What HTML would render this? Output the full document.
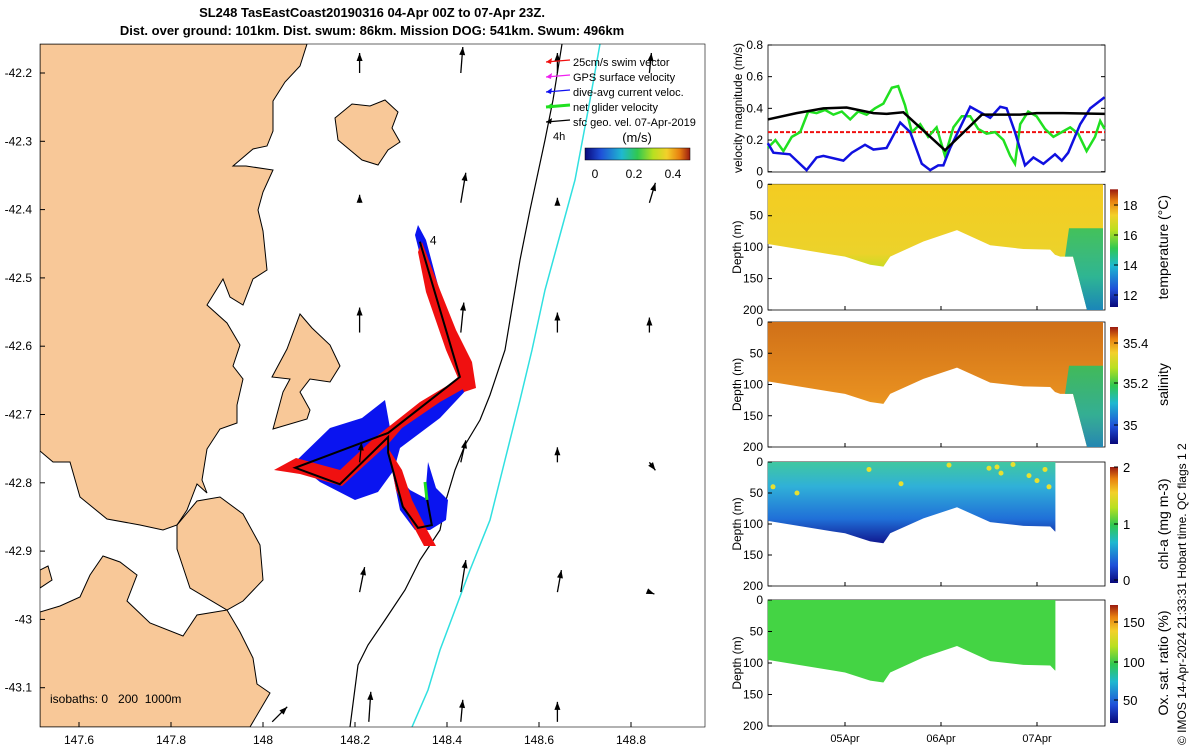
<!DOCTYPE html>
<html><head><meta charset="utf-8"><style>
body{margin:0;background:#fff;}
svg{display:block;font-family:"Liberation Sans","DejaVu Sans",sans-serif;}
</style></head><body>
<svg id="s" width="1200" height="750" viewBox="0 0 1200 750" xmlns="http://www.w3.org/2000/svg">
<defs>
<linearGradient id="cmapH" x1="0" y1="0" x2="1" y2="0">
<stop offset="0" stop-color="#08087a"/><stop offset="0.15" stop-color="#1f4fd8"/><stop offset="0.35" stop-color="#1fb8d0"/><stop offset="0.5" stop-color="#30c850"/><stop offset="0.65" stop-color="#b8e020"/><stop offset="0.78" stop-color="#f3d02a"/><stop offset="0.9" stop-color="#e88010"/><stop offset="1" stop-color="#9a1a10"/></linearGradient>
<linearGradient id="cmapV" x1="0" y1="1" x2="0" y2="0">
<stop offset="0" stop-color="#08087a"/><stop offset="0.15" stop-color="#1f4fd8"/><stop offset="0.35" stop-color="#1fb8d0"/><stop offset="0.5" stop-color="#30c850"/><stop offset="0.65" stop-color="#b8e020"/><stop offset="0.78" stop-color="#f3d02a"/><stop offset="0.9" stop-color="#e88010"/><stop offset="1" stop-color="#9a1a10"/></linearGradient>
<linearGradient id="tempG" x1="0" y1="0" x2="0" y2="1"><stop offset="0" stop-color="#f4cc22"/><stop offset="0.55" stop-color="#ecd22a"/><stop offset="0.72" stop-color="#b8e020"/><stop offset="1" stop-color="#20b870"/></linearGradient>
<linearGradient id="salG" x1="0" y1="0" x2="0" y2="1"><stop offset="0" stop-color="#d07018"/><stop offset="0.6" stop-color="#e89020"/><stop offset="0.85" stop-color="#e8b020"/><stop offset="1" stop-color="#80c030"/></linearGradient>
<linearGradient id="chlG" x1="0" y1="0" x2="0" y2="1"><stop offset="0" stop-color="#40c8a0"/><stop offset="0.3" stop-color="#30b0d8"/><stop offset="0.7" stop-color="#2070d8"/><stop offset="1" stop-color="#101890"/></linearGradient>
<linearGradient id="deepG" x1="0" y1="0" x2="0" y2="1"><stop offset="0" stop-color="#30c060"/><stop offset="0.6" stop-color="#20b0a0"/><stop offset="1" stop-color="#1a80c0"/></linearGradient>
</defs>
<g id="title" font-weight="bold" font-size="13" text-anchor="middle">
<text x="372" y="17">SL248 TasEastCoast20190316 04-Apr 00Z to 07-Apr 23Z.</text>
<text x="372" y="35">Dist. over ground: 101km. Dist. swum: 86km. Mission DOG: 541km. Swum: 496km</text>
</g>
<g id="map"></g>
<g id="right"></g>
<text transform="translate(1186,745) rotate(-90)" font-size="12">© IMOS 14-Apr-2024 21:33:31 Hobart time. QC flags 1  2</text>
</svg>
<script>
// ---------- Map data ----------
const lonTicks=[147.6,147.8,148,148.2,148.4,148.6,148.8];
const latTicks=[-42.2,-42.3,-42.4,-42.5,-42.6,-42.7,-42.8,-42.9,-43,-43.1];
const trackLon=[148.341,148.428,148.272,148.070,148.167,148.272,148.272,148.304,148.337,148.367,148.357];
const trackLat=[-42.447,-42.645,-42.727,-42.778,-42.802,-42.733,-42.756,-42.835,-42.866,-42.862,-42.825];
const arrLon=[148.21,148.43,148.64,148.84, 148.21,148.43,148.64,148.84, 148.21,148.43,148.64,148.84, 148.21,148.43,148.64,148.84, 148.21,148.43,148.64,148.84, 148.02,148.23,148.43,148.64];
const arrLat=[-42.20,-42.20,-42.20,-42.20, -42.39,-42.39,-42.39,-42.39, -42.58,-42.58,-42.58,-42.58, -42.77,-42.77,-42.77,-42.77, -42.96,-42.96,-42.96,-42.96, -43.15,-43.15,-43.15,-43.15];
const arrU=[0,0.02,0,0.02, 0,0.05,0,0.06, 0,0.03,0,0, 0.02,0.05,0,0.06, 0.05,0.05,0.04,0.05, 0.15,0.02,0.02,0];
const arrV=[0.2,0.26,0.2,0.2, 0.08,0.3,0.05,0.2, 0.25,0.3,0.2,0.15, 0.2,0.22,0.15,-0.08, 0.25,0.32,0.22,-0.02, 0.15,0.3,0.22,0.2];
// ---------- Velocity data (hours since 04-Apr 00Z) ----------
const gH=[4.7,6.6,8.6,10.7,12.8,14.8,16.9,19,21.1,23.2,25.3,27.3,29.4,31.5,33.6,35.7,37.3,39,40.7,42.8,44.8,46.9,49,51.1,53.2,55.3,57.3,59.4,61.5,63.6,65.3,66.5,67.8,69.8,71.9,74,76.1,78.2,80.3,82.3,84.4,86.5,87.8,88.9];
const gV=[0.15,0.2,0.13,0.22,0.25,0.38,0.37,0.39,0.36,0.38,0.33,0.38,0.36,0.4,0.43,0.53,0.54,0.42,0.25,0.3,0.22,0.28,0.1,0.28,0.35,0.35,0.27,0.24,0.25,0.2,0.1,0.05,0.3,0.38,0.35,0.27,0.22,0.25,0.28,0.24,0.13,0.22,0.32,0.27];
const bH=[4.7,6.1,10.2,14.4,16.9,18.6,23.6,25.7,29,31.1,34.4,37.8,40.3,43.2,45.3,47.3,48.6,50.3,55.3,60.3,62.8,64.4,66.5,69,71.1,73.6,76.5,78.2,79.8,82.8,85.3,88.9];
const bV=[0.18,0.12,0.11,0.01,0.09,0.1,0.07,0.12,0.17,0.14,0.15,0.31,0.25,0.05,0.01,0.04,0.04,0.15,0.41,0.34,0.41,0.4,0.25,0.04,0.09,0.05,0.11,0.07,0.12,0.3,0.4,0.47];
const kH=[4.7,11.9,18.6,24.4,31.1,34.4,38.6,49,58.2,67.8,71.9,78.5,88.9];
const kV=[0.33,0.37,0.4,0.405,0.37,0.365,0.375,0.135,0.36,0.36,0.37,0.37,0.365];
const swimV=0.25;
const velTicks=[0,0.2,0.4,0.6,0.8];
const depthTicks=[0,50,100,150,200];
const dayTicks=["05Apr","06Apr","07Apr"];
const dayTickH=[24,48,72];
const botH=[4.7,21,24,30.3,33.6,35.3,43.6,52,60.3,68.6,75.3,76.5,77.8,79,81];
const botD=[95,112,115,128,131,115,91,73,97,103,104,112,115,115,115];
const chlEndH=76.6;

const NS='http://www.w3.org/2000/svg';
function mk(t,a,p){const e=document.createElementNS(NS,t);for(const k in a)e.setAttribute(k,a[k]);(p||document.getElementById('s')).appendChild(e);return e;}
const M=document.getElementById('map'),R=document.getElementById('right');
const lx=lon=>263+(lon-148)*460, ly=lat=>73+(-42.2-lat)*683;

mk('clipPath',{id:'mc'},M);mk('rect',{x:40,y:44,width:665,height:683},document.getElementById('mc'));
const G=mk('g',{'clip-path':'url(#mc)'},M);
const lands=[
"M40,44 L307,44 L300,66 L285,82 L273,101 L273,131 L267,146 L253,149 L233,166 L246,166 L273,170 L263,192 L258,210 L263,231 L267,270 L253,279 L243,305 L230,297 L223,279 L207,305 L227,323 L240,345 L233,366 L243,379 L237,405 L237,423 L220,429 L207,449 L202,480 L207,493 L197,484 L187,510 L177,525 L163,530 L140,525 L107,519 L80,497 L70,462 L53,462 L40,451 Z",
"M177,525 L197,501 L220,497 L243,514 L260,545 L263,580 L243,601 L227,610 L190,588 L183,567 L177,549 Z",
"M103,556 L120,562 L137,575 L127,601 L150,623 L183,636 L197,615 L227,610 L240,632 L253,658 L257,684 L270,693 L250,727 L40,727 L40,612 L60,606 L80,597 L90,575 Z",
"M40,570 L48,566 L52,580 L40,588 Z",
"M335,118 L352,104 L370,106 L385,100 L398,112 L392,128 L400,142 L388,150 L378,165 L362,160 L350,150 L338,140 Z",
"M300,314 L312,328 L330,345 L340,366 L330,382 L310,379 L300,392 L310,410 L307,419 L273,429 L283,392 L290,379 L272,377 L287,349 Z"];
lands.forEach((d,i)=>{const q=mk('path',{d,fill:'#f8c898',stroke:'#000','stroke-width':1},G);
 });
let e=mk('polyline',{points:"600,44 590,100 575,180 560,235 545,290 532,350 520,400 505,460 490,520 470,570 455,610 440,650 428,690 412,727",fill:'none',stroke:'#30e0e0','stroke-width':1.5},G);

e=mk('polyline',{points:"562,44 553,100 545,140 530,210 520,260 510,320 505,350 490,395 480,420 465,445 455,470 446,500 440,530 420,560 405,590 385,620 368,645 358,665 350,727",fill:'none',stroke:'#000','stroke-width':1.2},G);

const blue=["M418,225 L426,240 L450,330 L468,372 L462,380 L438,320 L420,255 L415,235Z","M295,462 L330,428 L362,418 L385,400 L390,428 L440,392 L465,375 L470,386 L440,418 L400,448 L394,470 L378,492 L355,500 L320,482Z","M392,470 L410,490 L425,498 L428,462 L436,488 L448,500 L446,520 L430,530 L415,530 L400,510Z"];
const red=["M422,242 L440,290 L456,330 L472,362 L476,388 L464,392 L446,350 L426,292 L418,252Z","M460,378 L472,384 L440,402 L402,428 L390,442 L342,486 L300,474 L274,470 L296,458 L340,470 L372,440 L420,402Z","M388,448 L396,490 L410,520 L424,546 L436,546 L426,528 L412,500 L402,470Z"];
blue.forEach(d=>{const q=mk('path',{d,fill:'#0a14f0'},G);});
red.forEach(d=>{const q=mk('path',{d,fill:'#f01010'},G);});
e=mk('line',{x1:427,y1:500,x2:425,y2:482,stroke:'#20e020','stroke-width':3},G);

e=mk('polyline',{points:trackLon.map((l,i)=>lx(l)+','+ly(trackLat[i])).join(' '),fill:'none',stroke:'#000','stroke-width':2},G);

e=mk('text',{x:lx(trackLon[0])+10,y:ly(trackLat[0])+3,'font-size':12},G);e.textContent='4';

arrLon.forEach((lo,i)=>{const x=lx(lo),y=ly(arrLat[i]),dx=arrU[i]*100,dy=-arrV[i]*100;
 const g=mk('g',{},G);
 
 
 mk('line',{x1:x,y1:y,x2:x+dx,y2:y+dy,stroke:'#000','stroke-width':1.3},g);
 const L=Math.hypot(dx,dy)||1,ux=dx/L,uy=dy/L,hx=x+dx,hy=y+dy;
 mk('path',{d:`M${hx},${hy} L${hx-ux*8-uy*3},${hy-uy*8+ux*3} L${hx-ux*8+uy*3},${hy-uy*8-ux*3}Z`,fill:'#000'},g);
});
const leg=mk('g',{},M);
const legItems=[['25cm/s swim vector','#f01010'],['GPS surface velocity','#f020f0'],['dive-avg current veloc.','#1010f0'],['net glider velocity','#20e020'],['sfc geo. vel. 07-Apr-2019','#000']];
legItems.forEach((it,i)=>{const y=62+i*15;mk('line',{x1:546,y1:y,x2:570,y2:y-2,stroke:it[1],'stroke-width':i==3?3:1.2},leg);
 mk('path',{d:`M546,${y} l6,-4 l-1,6Z`,fill:it[1]},leg);
 const t=mk('text',{x:573,y:y+4,'font-size':11},leg);t.textContent=it[0];});
let t=mk('text',{x:553,y:140,'font-size':11},M);t.textContent='4h';
t=mk('text',{x:637,y:142,'font-size':13,'text-anchor':'middle'},M);t.textContent='(m/s)';
e=mk('rect',{x:585,y:148,width:105,height:12,fill:'url(#cmapH)',stroke:'#000','stroke-width':0.5},M);

[[0,595],[0.2,634],[0.4,673]].forEach(a=>{const q=mk('text',{x:a[1],y:178,'font-size':12,'text-anchor':'middle'},M);q.textContent=a[0];});
t=mk('text',{x:50,y:703,'font-size':12,style:'white-space:pre'},M);t.textContent='isobaths: 0   200  1000m';

mk('rect',{x:40,y:44,width:665,height:683,fill:'none',stroke:'#000','stroke-width':0.6},M);
lonTicks.forEach(l=>{const x=lx(l);mk('line',{x1:x,y1:727,x2:x,y2:722,stroke:'#000'},M);const q=mk('text',{x,y:744,'font-size':12,'text-anchor':'middle'},M);q.textContent=l;});
latTicks.forEach(l=>{const y=ly(l);mk('line',{x1:40,y1:y,x2:45,y2:y,stroke:'#000'},M);const q=mk('text',{x:32,y:y+4,'font-size':12,'text-anchor':'end'},M);q.textContent=l;});

// ---------- Right panels ----------
const X0=768,X1=1105;
const tx=h=>749+h*4;
const vy=v=>171.7-v*158.4;
mk('rect',{x:X0,y:45,width:X1-X0,height:127,fill:'#fff',stroke:'#000','stroke-width':0.8},R);
velTicks.forEach(v=>{const y=vy(v);mk('line',{x1:X0,y1:y,x2:X0+4,y2:y,stroke:'#000'},R);mk('line',{x1:X1,y1:y,x2:X1-4,y2:y,stroke:'#000'},R);const q=mk('text',{x:763,y:y+4,'font-size':12,'text-anchor':'end'},R);q.textContent=v;});
t=mk('text',{transform:'translate(742,108) rotate(-90)','font-size':12,'text-anchor':'middle'},R);t.textContent='velocity magnitude (m/s)';
e=mk('line',{x1:X0,y1:vy(swimV),x2:X1,y2:vy(swimV),stroke:'#f01010','stroke-width':2,'stroke-dasharray':'4,2'},R);

const ser=[[gH,gV,'#20e020','green-net-velocity'],[bH,bV,'#1010e0','blue-current-velocity'],[kH,kV,'#000','black-geo-velocity']];
ser.forEach(s=>{const p=mk('polyline',{points:s[0].map((h,i)=>tx(h)+','+vy(s[1][i])).join(' '),fill:'none',stroke:s[2],'stroke-width':2.5},R);
 });
const panels=[
 {y0:184.3,y1:310,fill:'url(#tempG)',deep:true,label:'temperature (°C)',cb:[['18',205],['16',235],['14',265],['12',295]],name:'temperature-section'},
 {y0:322,y1:447,fill:'url(#salG)',deep:true,label:'salinity',cb:[['35.4',343],['35.2',383],['35',425]],name:'salinity-section'},
 {y0:462,y1:586,fill:'url(#chlG)',deep:false,label:'chl-a (mg m-3)',cb:[['2',467],['1',524],['0',580]],name:'chla-section'},
 {y0:600,y1:726,fill:'#44d444',deep:false,label:'Ox. sat. ratio (%)',cb:[['150',622],['100',662],['50',700]],name:'oxygen-section'}];
panels.forEach((P,k)=>{
 const dy=d=>P.y0+d*(P.y1-P.y0)/200;
 mk('rect',{x:X0,y:P.y0,width:X1-X0,height:P.y1-P.y0,fill:'#fff',stroke:'#000','stroke-width':0.8},R);
 let pts=[tx(botH[0])+','+dy(0)];
 botH.forEach((h,i)=>{if(P.deep||h<=chlEndH)pts.push(tx(h)+','+dy(botD[i]));});
 if(P.deep){pts.push(tx(84.5)+','+dy(200),tx(88.5)+','+dy(200),tx(88.5)+','+dy(0));}
 else{pts.push(tx(chlEndH)+','+dy(112),tx(chlEndH)+','+dy(0));}
 const s=mk('polygon',{points:pts.join(' '),fill:P.fill},R);
 
 if(P.deep){mk('polygon',{points:`${tx(80)},${dy(70)} ${tx(88.5)},${dy(70)} ${tx(88.5)},${dy(200)} ${tx(84.5)},${dy(200)} ${tx(81)},${dy(115)} ${tx(79)},${dy(115)}`,fill:'url(#deepG)',opacity:0.9},R);}
 if(k==2){[[6,40],[12,50],[30,12],[38,35],[50,5],[60,10],[62,8],[63,18],[66,4],[70,22],[72,30],[74,12],[75,40]].forEach(c=>mk('circle',{cx:tx(c[0]),cy:dy(c[1]),r:2.5,fill:'#e8e030'},R));}
 depthTicks.forEach(d=>{const y=dy(d);mk('line',{x1:X0,y1:y,x2:X0+4,y2:y,stroke:'#000'},R);const q=mk('text',{x:763,y:y+4,'font-size':12,'text-anchor':'end'},R);q.textContent=d;});
 dayTickH.forEach(h=>{mk('line',{x1:tx(h),y1:P.y1,x2:tx(h),y2:P.y1-4,stroke:'#000'},R);});
 const q=mk('text',{transform:`translate(741,${(P.y0+P.y1)/2}) rotate(-90)`,'font-size':12,'text-anchor':'middle'},R);q.textContent='Depth (m)';
 const c=mk('rect',{x:1110,y:P.y0+5,width:8,height:P.y1-P.y0-8,fill:'url(#cmapV)'},R);
 
 P.cb.forEach(a=>{mk('line',{x1:1118,y1:a[1],x2:1114,y2:a[1],stroke:'#000'},R);const z=mk('text',{x:1123,y:a[1]+5,'font-size':13},R);z.textContent=a[0];});
 const lb=mk('text',{transform:`translate(1168,${(P.y0+P.y1)/2}) rotate(-90)`,'font-size':14,'text-anchor':'middle'},R);lb.textContent=P.label;
});
dayTicks.forEach((d,i)=>{const q=mk('text',{x:tx(dayTickH[i]),y:742,'font-size':11,'text-anchor':'middle'},R);q.textContent=d;});
</script>
</body></html>
